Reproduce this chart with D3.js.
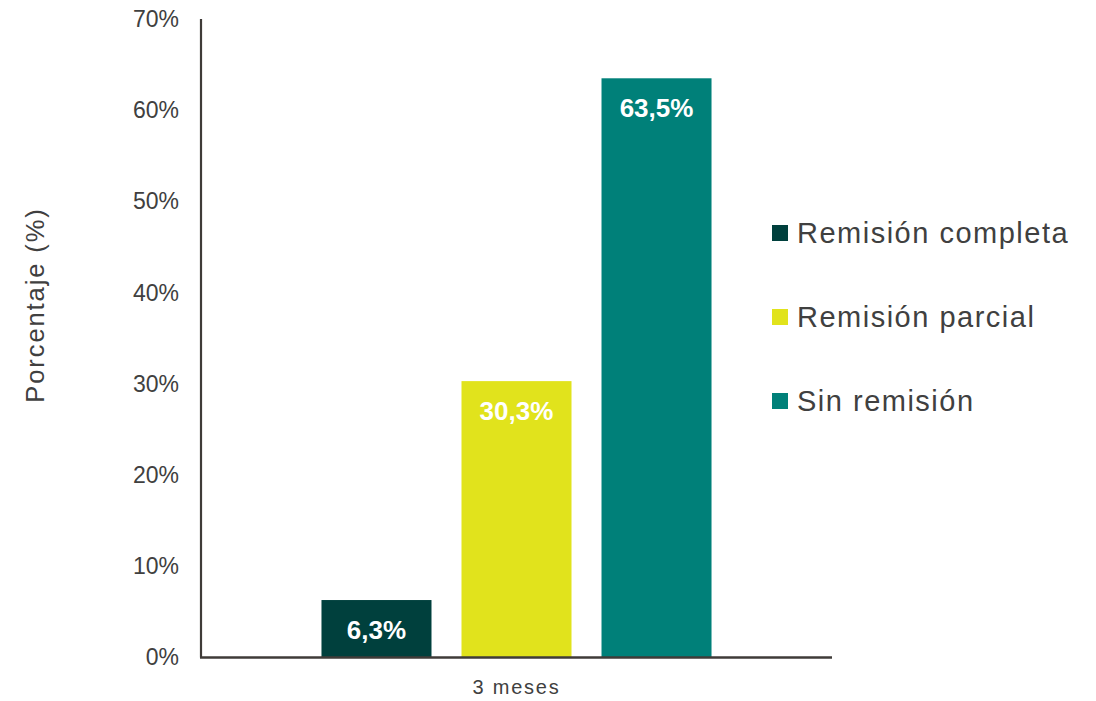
<!DOCTYPE html>
<html>
<head>
<meta charset="utf-8">
<script src="https://cdn.jsdelivr.net/npm/d3@7"></script>
<style>
  html, body { margin: 0; padding: 0; background: #fff; }
  svg { display: block; font-family: "Liberation Sans", Arial, sans-serif; }
</style>
</head>
<body>
<svg id="chart" width="1096" height="701"></svg>
<script>
// ---- data ----
const categories = ["3 meses"];
const seriesNames = ["Remisión completa", "Remisión parcial", "Sin remisión"];
const seriesValues = [6.3, 30.3, 63.5];
const valueLabels = ["6,3%", "30,3%", "63,5%"];
const seriesColors = ["#00403d", "#e1e31c", "#008079"];
const yTicks = [0, 10, 20, 30, 40, 50, 60, 70];
const yTickLabels = ["0%", "10%", "20%", "30%", "40%", "50%", "60%", "70%"];
const yTitle = "Porcentaje (%)";

(function () {
const svg = d3.select("#chart");
const mLeft = 201, mRight = 832, mTop = 19, mBottom = 657.5;
const textColor = "#404040";
const axisColor = "#3f3b38";

const y = d3.scaleLinear().domain([0, 70]).range([mBottom, mTop]);
const x0 = d3.scaleBand().domain(categories).range([mLeft, mRight]).paddingInner(0.236).paddingOuter(0.236);
const x1 = d3.scaleBand().domain(seriesNames).range([0, x0.bandwidth()]).paddingInner(0.2143).paddingOuter(0);

// y axis tick labels (no tick marks)
const yAxis = d3.axisLeft(y).tickValues(yTicks).tickSize(0).tickPadding(22)
  .tickFormat((d, i) => yTickLabels[i]);
const gy = svg.append("g").attr("transform", `translate(${mLeft},0)`).call(yAxis);
gy.select(".domain").remove();
gy.selectAll("text").attr("font-size", 23).attr("fill", textColor)
  .attr("font-family", '"Liberation Sans", Arial, sans-serif');

// bars
const g = svg.append("g").attr("transform", `translate(${x0(categories[0])},0)`);
g.selectAll("rect").data(seriesValues).join("rect")
  .attr("x", (d, i) => x1(seriesNames[i]))
  .attr("y", d => y(d))
  .attr("width", x1.bandwidth())
  .attr("height", d => y(0) - y(d))
  .attr("fill", (d, i) => seriesColors[i]);

// value labels
g.selectAll("text.val").data(seriesValues).join("text")
  .attr("class", "val")
  .attr("x", (d, i) => x1(seriesNames[i]) + x1.bandwidth() / 2)
  .attr("y", d => y(d) + 39)
  .attr("text-anchor", "middle")
  .attr("font-size", 26)
  .attr("font-weight", "bold")
  .attr("fill", "#ffffff")
  .text((d, i) => valueLabels[i]);

// axes lines
svg.append("line").attr("x1", mLeft).attr("x2", mLeft).attr("y1", mTop).attr("y2", mBottom)
  .attr("stroke", axisColor).attr("stroke-width", 2.2);
const xAxis = d3.axisBottom(x0).tickSize(0).tickPadding(22);
const gx = svg.append("g").attr("transform", `translate(0,${mBottom})`).call(xAxis);
gx.select(".domain").attr("stroke", axisColor).attr("stroke-width", 2.5)
  .attr("d", `M${mLeft - 1},0H${mRight}`);
gx.selectAll("text").attr("font-size", 20).attr("fill", textColor)
  .attr("letter-spacing", 1.8)
  .attr("font-family", '"Liberation Sans", Arial, sans-serif');

// y title
svg.append("text")
  .attr("transform", "translate(44,305) rotate(-90)")
  .attr("text-anchor", "middle")
  .attr("font-size", 25.5)
  .attr("letter-spacing", 1.9)
  .attr("fill", textColor)
  .text(yTitle);

// legend
const legendY = [233, 317, 401];
const lg = svg.append("g");
seriesNames.forEach((name, i) => {
  lg.append("rect").attr("x", 772).attr("y", legendY[i] - 8).attr("width", 16).attr("height", 16)
    .attr("fill", seriesColors[i]);
  lg.append("text").attr("x", 797).attr("y", legendY[i] + 10)
    .attr("font-size", 29).attr("letter-spacing", 1.5).attr("fill", textColor)
    .text(name);
});
})();
</script>
</body>
</html>
